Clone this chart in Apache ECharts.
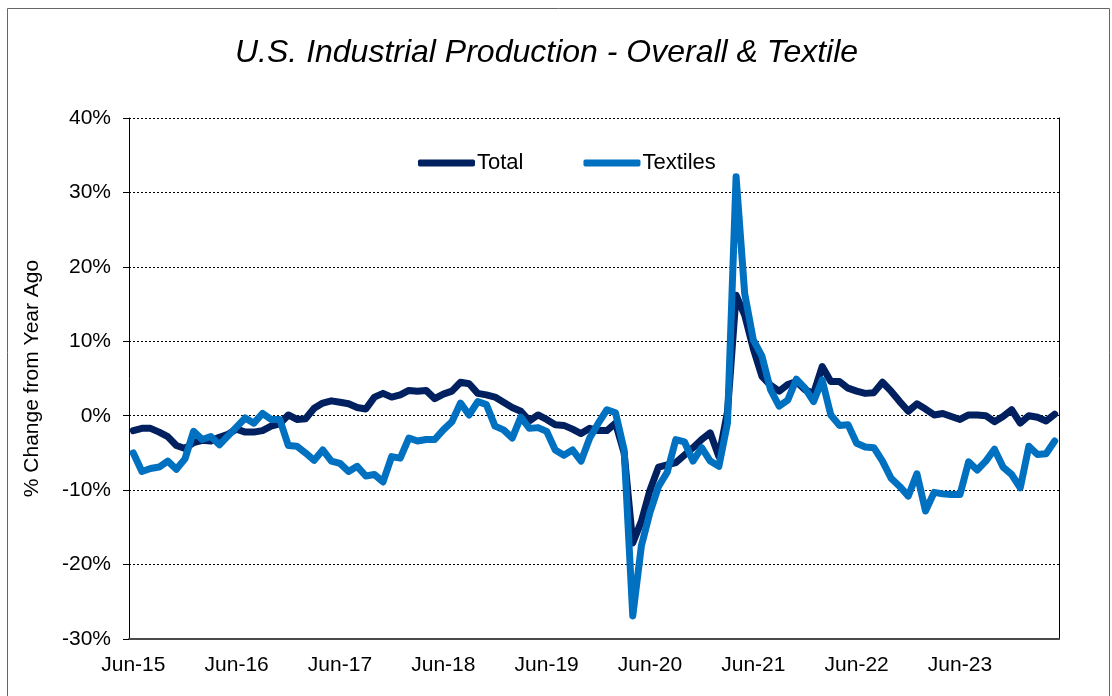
<!DOCTYPE html>
<html>
<head>
<meta charset="utf-8">
<script src="https://cdn.jsdelivr.net/npm/echarts@6/dist/echarts.min.js"></script>
<style>
  html, body { margin: 0; padding: 0; background: #fff; }
  #chart { width: 1112px; height: 696px; }
</style>
</head>
<body>
<div id="chart"></div>
<script>
// monthly, Jun-15 .. May-24
var monthNames = ['Jan','Feb','Mar','Apr','May','Jun','Jul','Aug','Sep','Oct','Nov','Dec'];
var startYear = 2015, startMonth = 5, monthCount = 108;

// % change from year ago
var total = [
  -2.0, -1.7, -1.7, -2.2, -2.8, -4.0, -4.4, -3.6, -3.3, -3.4, -2.9, -2.5,
  -1.8, -2.2, -2.2, -2.0, -1.4, -1.1, 0.1, -0.5, -0.4, 1.0, 1.7, 2.0,
  1.8, 1.6, 1.1, 0.9, 2.5, 3.0, 2.5, 2.8, 3.4, 3.3, 3.4, 2.3,
  2.9, 3.3, 4.5, 4.3, 3.0, 2.8, 2.5, 1.8, 1.1, 0.6, -0.7, 0.1,
  -0.5, -1.2, -1.3, -1.8, -2.4, -1.7, -2.0, -2.0, -1.0, -5.0, -17.1, -14.2,
  -10.0, -6.9, -6.6, -6.3, -5.3, -4.3, -3.2, -2.3, -5.5, 0.5, 16.2, 13.5,
  9.0, 5.3, 4.1, 3.3, 4.2, 4.6, 3.5, 3.0, 6.6, 4.6, 4.6, 3.7,
  3.3, 3.0, 3.1, 4.5, 3.3, 1.9, 0.6, 1.6, 0.9, 0.1, 0.3, -0.1,
  -0.5, 0.1, 0.1, 0.0, -0.8, -0.1, 0.8, -1.0, 0.0, -0.2, -0.7, 0.2
];
var textiles = [
  -5.0, -7.5, -7.1, -6.9, -6.1, -7.2, -5.8, -2.1, -3.2, -2.8, -3.9, -2.7,
  -1.5, -0.3, -1.0, 0.3, -0.5, -0.5, -4.0, -4.1, -5.0, -6.0, -4.6, -6.1,
  -6.4, -7.5, -6.8, -8.1, -7.9, -8.9, -5.5, -5.7, -3.0, -3.4, -3.2, -3.2,
  -1.9, -0.8, 1.7, 0.1, 1.9, 1.5, -1.4, -1.9, -3.0, -0.2, -1.7, -1.6,
  -2.1, -4.6, -5.3, -4.6, -6.1, -3.0, -1.0, 0.8, 0.4, -4.6, -26.9, -17.5,
  -13.0, -9.5, -7.6, -3.2, -3.5, -6.1, -4.3, -6.1, -6.8, -1.0, 32.1, 16.4,
  10.2, 8.0, 3.5, 1.3, 2.1, 4.9, 3.7, 1.9, 4.8, 0.1, -1.3, -1.2,
  -3.7, -4.2, -4.3, -6.1, -8.4, -9.5, -10.8, -7.8, -12.8, -10.3, -10.5, -10.6,
  -10.6, -6.2, -7.3, -6.1, -4.5, -6.9, -7.9, -9.7, -4.1, -5.2, -5.1, -3.4
];

var months = [];
for (var i = 0; i < monthCount; i++) {
  var m = (startMonth + i) % 12;
  var y = startYear + Math.floor((startMonth + i) / 12);
  months.push(monthNames[m] + '-' + String(y).slice(2));
}

var font = "'Liberation Sans', Arial, sans-serif";
var chart = echarts.init(document.getElementById('chart'));

var option = {
  animation: false,
  backgroundColor: '#fff',
  textStyle: { fontFamily: font },
  title: {
    text: 'U.S. Industrial Production - Overall & Textile',
    left: 230,
    top: 32,
    textStyle: { fontFamily: font, fontSize: 32, fontStyle: 'italic', fontWeight: 'normal', color: '#000' }
  },
  legend: {
    data: ['Total', 'Textiles'],
    left: 418,
    top: 152,
    padding: 0,
    icon: 'roundRect',
    itemWidth: 57,
    itemHeight: 7,
    itemGap: 60,
    textStyle: { fontFamily: font, fontSize: 22, color: '#000', padding: [0, 0, 0, -3] }
  },
  grid: { left: 129, right: 53, top: 118, bottom: 57 },
  xAxis: {
    type: 'category',
    data: months,
    boundaryGap: true,
    axisLine: { onZero: false, lineStyle: { color: '#4a4a4a', width: 2 } },
    axisTick: { interval: 11, length: 6, lineStyle: { color: '#4a4a4a' } },
    axisLabel: { interval: 11, margin: 16, fontSize: 21, color: '#000', fontFamily: font },
    splitLine: { show: false }
  },
  yAxis: [{
    type: 'value',
    min: -30,
    max: 40,
    interval: 10,
    name: '% Change from Year Ago',
    nameLocation: 'middle',
    nameGap: 86,
    nameTextStyle: { fontFamily: font, fontSize: 21, color: '#000' },
    axisLine: { show: true, lineStyle: { color: '#000', width: 1 } },
    axisTick: { show: true, length: 6, lineStyle: { color: '#000' } },
    axisLabel: { formatter: '{value}%', margin: 18, fontSize: 21, color: '#000', fontFamily: font },
    splitLine: { show: true, lineStyle: { color: '#000', width: 1, type: [2, 2] } }
  }, {
    type: 'value',
    position: 'right',
    min: -30,
    max: 40,
    interval: 10,
    axisLine: { show: true, lineStyle: { color: '#000', width: 1 } },
    axisTick: { show: false },
    axisLabel: { show: false },
    splitLine: { show: false }
  }],
  series: [{
    name: 'Total',
    type: 'line',
    data: total,
    symbol: 'none',
    color: '#002060',
    lineStyle: { width: 7, color: '#002060', join: 'round', cap: 'round' },
    z: 2
  }, {
    name: 'Textiles',
    type: 'line',
    data: textiles,
    symbol: 'none',
    color: '#0070C0',
    lineStyle: { width: 7, color: '#0070C0', join: 'round', cap: 'round' },
    z: 3
  }],
  graphic: [{
    type: 'rect',
    shape: { x: 7.5, y: 8.5, width: 1102, height: 700 },
    style: { fill: 'none', stroke: '#666', lineWidth: 1 },
    silent: true,
    z: -1
  }]
};

chart.setOption(option);
</script>
</body>
</html>
